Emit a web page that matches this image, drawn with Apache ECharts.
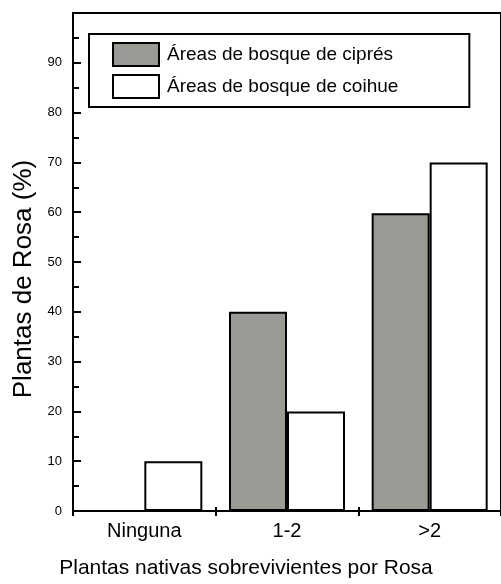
<!DOCTYPE html>
<html>
<head>
<meta charset="utf-8">
<script src="https://cdn.jsdelivr.net/npm/echarts@6/dist/echarts.min.js"></script>
<style>html,body{margin:0;padding:0;background:#fff;}#c{width:501px;height:584px;}</style>
</head>
<body>
<div id="c"></div>
<script>
const categories = ['Ninguna', '1-2', '>2'];
const cipres = [0, 40, 59.8];
const coihue = [10, 20, 70];
const seriesNames = ['Áreas de bosque de ciprés', 'Áreas de bosque de coihue'];
const yTicks = [0, 10, 20, 30, 40, 50, 60, 70, 80, 90];

const font = '"Liberation Sans", Arial, sans-serif';
const chart = echarts.init(document.getElementById('c'));
chart.setOption({
  animation: false,
  backgroundColor: '#fff',
  grid: { left: 73, top: 13, right: -3, bottom: 70, show: true, borderColor: '#000', borderWidth: 2, backgroundColor: 'transparent' },
  legend: {
    orient: 'vertical', left: 89, top: 34,
    data: seriesNames.map(n => ({ name: n, icon: 'rect' })),
    itemWidth: 46, itemHeight: 23, itemGap: 7,
    padding: [8, 71, 8, 23],
    borderColor: '#000', borderWidth: 2,
    textStyle: { fontFamily: font, fontSize: 19, lineHeight: 23, color: '#000', padding: [0, 0, 0, 3] },
    selectedMode: false
  },
  xAxis: [{
    type: 'category', data: categories, position: 'bottom',
    axisLine: { lineStyle: { color: '#000', width: 2 } },
    axisTick: { show: true, length: 5, lineStyle: { color: '#000', width: 2 } },
    axisLabel: { fontFamily: font, fontSize: 20, color: '#000', margin: 10 },
    name: 'Plantas nativas sobrevivientes por Rosa', nameLocation: 'middle', nameGap: 47,
    nameTextStyle: { fontFamily: font, fontSize: 21, color: '#000', padding: [0, 82, 0, 0] }
  }, {
    type: 'category', data: categories, position: 'bottom', gridIndex: 0,
    axisLine: { show: false },
    axisTick: { show: true, inside: true, length: 4, lineStyle: { color: '#000', width: 2 } },
    axisLabel: { show: false }
  }],
  yAxis: {
    type: 'value', min: 0, max: 100, interval: 10,
    axisLine: { show: true, lineStyle: { color: '#000', width: 2 } },
    axisTick: { show: true, inside: true, length: 8, lineStyle: { color: '#000', width: 2 } },
    minorTick: { show: true, splitNumber: 2, length: 6, lineStyle: { color: '#000', width: 2 } },
    splitLine: { show: false },
    axisLabel: { fontFamily: font, fontSize: 13, color: '#000', margin: 11,
      formatter: v => yTicks.indexOf(v) >= 0 ? String(v) : '' },
    name: 'Plantas de Rosa (%)', nameLocation: 'middle', nameGap: 36,
    nameTextStyle: { fontFamily: font, fontSize: 26, color: '#000', padding: [0, 34, 0, 0] }
  },
  series: [{
    name: seriesNames[0], type: 'bar', data: cipres, barWidth: 58, barGap: '0%',
    itemStyle: { color: '#9b9994', borderColor: '#000', borderWidth: 2 }
  }, {
    name: seriesNames[1], type: 'bar', data: coihue, barWidth: 58, barGap: '0%',
    itemStyle: { color: '#fff', borderColor: '#000', borderWidth: 2 }
  }]
});
</script>
</body>
</html>
